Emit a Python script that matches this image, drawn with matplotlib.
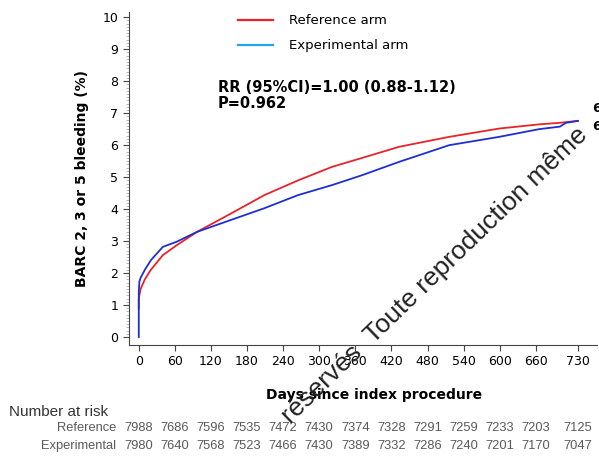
import matplotlib
matplotlib.use("Agg")
import matplotlib.pyplot as plt
import matplotlib.transforms as mtransforms

# days since index procedure and cumulative BARC 2/3/5 bleeding (%)
days = [0, 0, 1, 3, 10, 20, 40, 63, 97, 153, 209, 265, 321, 371, 433, 516, 599, 665, 700, 710, 730]
reference = [0.9, 1.2, 1.3, 1.5, 1.8, 2.1, 2.56, 2.87, 3.29, 3.86, 4.44, 4.9, 5.32, 5.6, 5.95, 6.26, 6.52, 6.65, 6.7, 6.72, 6.76]
experimental = [0.0, 1.4, 1.73, 1.85, 2.1, 2.4, 2.82, 2.98, 3.29, 3.66, 4.03, 4.44, 4.75, 5.06, 5.48, 6.0, 6.26, 6.5, 6.58, 6.7, 6.76]

xticks = [0, 60, 120, 180, 240, 300, 360, 420, 480, 540, 600, 660, 730]
yticks = list(range(0, 11))

risk_reference = [7988, 7686, 7596, 7535, 7472, 7430, 7374, 7328, 7291, 7259, 7233, 7203, 7125]
risk_experimental = [7980, 7640, 7568, 7523, 7466, 7430, 7389, 7332, 7286, 7240, 7201, 7170, 7047]

red = "#e8232a"
blue = "#1e2fd0"

fig = plt.figure(figsize=(5.99, 4.61), dpi=100)
ax = fig.add_axes([0.215, 0.2516, 0.782, 0.722])

ax.plot(days, reference, color=red, lw=1.3)
ax.plot(days, experimental, color=blue, lw=1.3)

ax.set_xlim(-16.6, 762)
ax.set_ylim(-0.25, 10.16)
ax.set_xticks(xticks)
ax.set_yticks(yticks)
ax.set_yticks([i / 10 for i in range(0, 101)], minor=True)
ax.tick_params(axis="both", labelsize=9, direction="out", length=4, width=0.8, colors="#444444", labelcolor="black")
ax.tick_params(axis="y", which="minor", length=2, width=0.4, colors="#888888")
ax.spines["top"].set_visible(False)
ax.spines["right"].set_visible(False)
ax.spines["left"].set_color("#444444")
ax.spines["bottom"].set_color("#444444")

ax.set_xlabel("Days since index procedure", fontsize=10, fontweight="bold")
ax.xaxis.set_label_coords(0.523, -0.128)
ax.set_ylabel("BARC 2, 3 or 5 bleeding (%)", fontsize=10, fontweight="bold", labelpad=10)

# legend drawn by hand, like the original slide
fig.lines.append(plt.Line2D([238 / 599, 273 / 599], [1 - 20 / 461] * 2, color=red, lw=1.6, transform=fig.transFigure))
fig.lines.append(plt.Line2D([238 / 599, 273 / 599], [1 - 45 / 461] * 2, color="#1ea6e8", lw=1.6, transform=fig.transFigure))
fig.text(289 / 599, 1 - 20 / 461, "Reference arm", fontsize=9.5, va="center")
fig.text(289 / 599, 1 - 45 / 461, "Experimental arm", fontsize=9.5, va="center")

fig.text(218 / 599, 1 - 87 / 461, "RR (95%CI)=1.00 (0.88-1.12)", fontsize=10.5, fontweight="bold", va="center")
fig.text(218 / 599, 1 - 104 / 461, "P=0.962", fontsize=10.5, fontweight="bold", va="center")

fig.text(592 / 599, 1 - 108 / 461, "6.76", fontsize=9.5, fontweight="bold", va="center")
fig.text(592 / 599, 1 - 126 / 461, "6.75", fontsize=9.5, fontweight="bold", va="center")

# number at risk table
arial = ["Liberation Sans", "DejaVu Sans"]
fig.text(9 / 599, 1 - 412 / 461, "Number at risk", fontsize=11, family=arial, va="center", color="#333333")
trans = mtransforms.blended_transform_factory(ax.transData, fig.transFigure)
for label, counts, ypix in [("Reference", risk_reference, 428), ("Experimental", risk_experimental, 446)]:
    fig.text(116 / 599, 1 - ypix / 461, label, fontsize=9.3, family=arial, ha="right", va="center", color="#5a5a5a")
    for x, n in zip(xticks, counts):
        ax.text(x, 1 - ypix / 461, str(n), transform=trans, fontsize=9.3, family=arial,
                ha="center", va="center", color="#5a5a5a")

# watermark
fig.text(592 / 599, 1 - 140 / 461, "réservés  Toute reproduction même", fontsize=19, rotation=44,
         rotation_mode="anchor", ha="right", va="bottom", color="#222222", family=arial)

fig.savefig("out.png", dpi=100)
